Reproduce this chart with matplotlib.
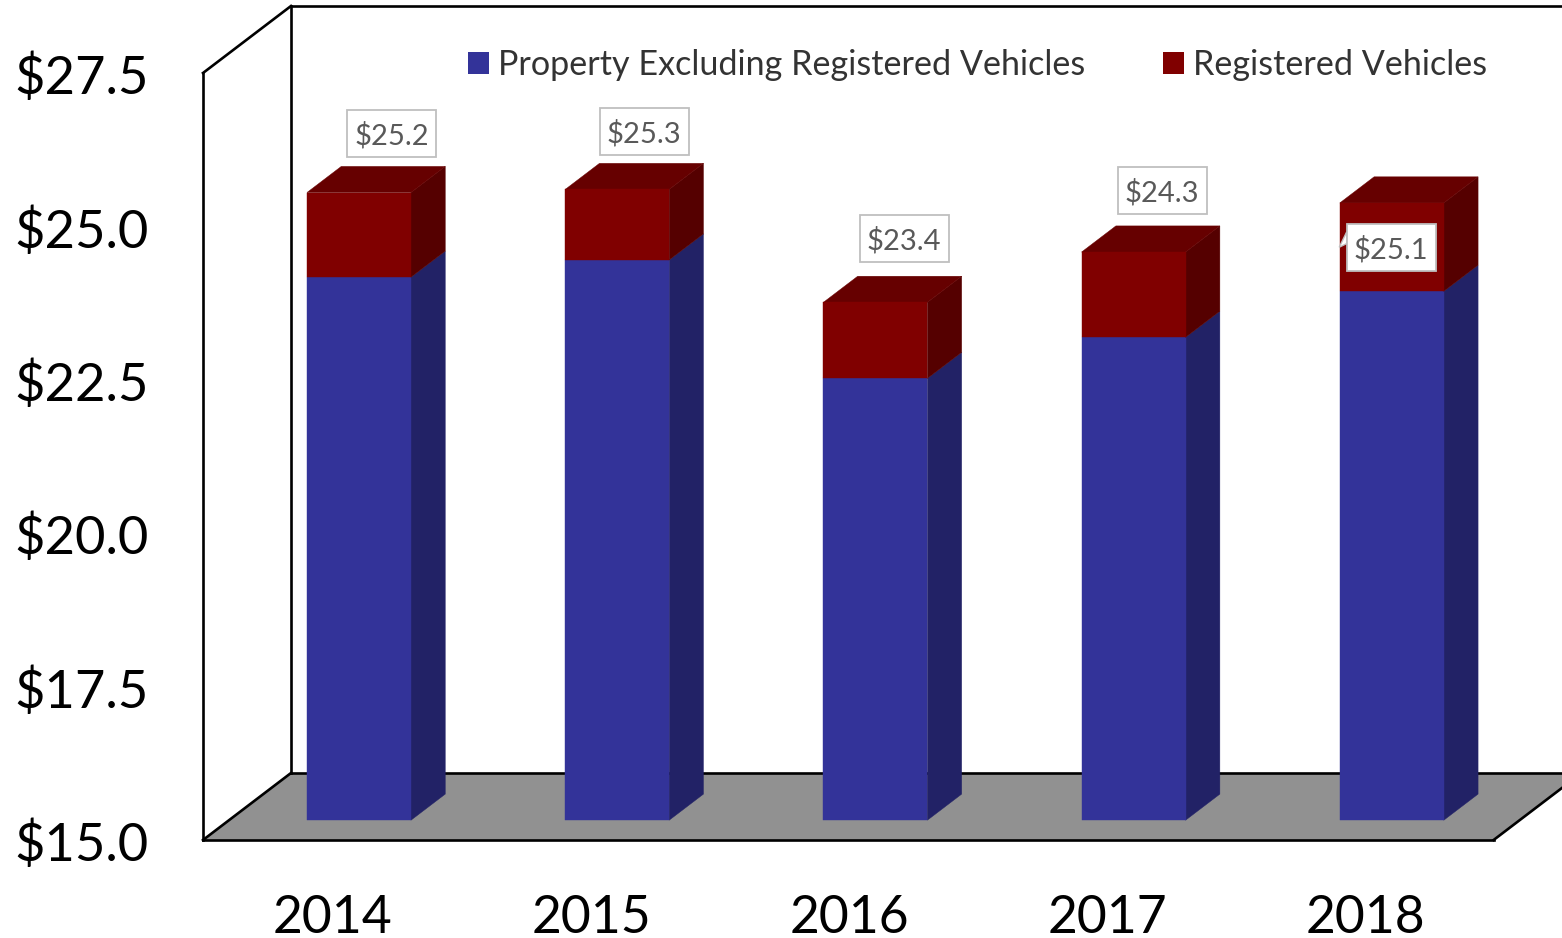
import matplotlib
matplotlib.use("Agg")
import matplotlib.pyplot as plt
from matplotlib.patches import Polygon, Rectangle

plt.rcParams["font.family"] = ["Lato", "DejaVu Sans"]

# -------------------------------------------------------
# Data
# -------------------------------------------------------
years = ["2014", "2015", "2016", "2017", "2018"]
property_vals = [23.85, 24.13, 22.20, 22.87, 23.62]
registered_vals = [1.38, 1.15, 1.24, 1.39, 1.44]
total_labels = ["$25.2", "$25.3", "$23.4", "$24.3", "$25.1"]
y_ticks = [15.0, 17.5, 20.0, 22.5, 25.0, 27.5]
series_names = ["Property Excluding Registered Vehicles", "Registered Vehicles"]

# label box centres, in category / value units
label_x = [0.2266, 1.2045, 2.2115, 3.2107, 4.0976]
label_y = [26.514, 26.54, 24.795, 25.585, 24.648]

W, H = 1562, 938
PX_CAT = 258.2
PX_VAL = 61.36
X0_PX = 333
Y0_PX = 840

# depth unit = the full floor depth
DX = 88 / PX_CAT
DY = 67 / PX_VAL
BAR_FRONT = 0.295
BAR_DEPTH = 0.39
HALF = 52 / PX_CAT
BOX_W = 89 / PX_CAT
BOX_H = 47 / PX_VAL

BLUE = ["#333399", "#222266"]
RED = ["#800000", "#550000", "#660000"]

fig = plt.figure(figsize=(W / 100, H / 100), dpi=100)
ax = fig.add_axes([0, 0, 1, 1])
ax.set_xlim(-X0_PX / PX_CAT, (W - X0_PX) / PX_CAT)
ax.set_ylim(15 - (H - Y0_PX) / PX_VAL, 15 + Y0_PX / PX_VAL)
ax.axis("off")


def proj(x, v, d):
    return (x + d * DX, v + d * DY)


def block(i, low, high, cols):
    # values count from the bar foot, which sits BAR_FRONT in from the floor edge
    lift = BAR_FRONT * DY
    lx = i - HALF + BAR_FRONT * DX
    rx = i + HALF + BAR_FRONT * DX
    back_dx = BAR_DEPTH * DX
    back_dy = BAR_DEPTH * DY
    front = [(lx, low), (rx, low), (rx, high), (lx, high)]
    side = [(rx, low), (rx + back_dx, low + back_dy), (rx + back_dx, high + back_dy), (rx, high)]
    parts = [(side, cols[1]), (front, cols[0])]
    if len(cols) > 2:
        top = [(lx, high), (rx, high), (rx + back_dx, high + back_dy), (lx + back_dx, high + back_dy)]
        parts.insert(1, (top, cols[2]))
    for pts, c in parts:
        ax.add_patch(Polygon([(x, y + lift) for x, y in pts], closed=True,
                             fc=c, ec=c, lw=0.3, zorder=4))


# -------------------------------------------------------
# Walls and floor
# -------------------------------------------------------
left = -0.5035
right = 4.495
far = 6
ax.add_patch(Polygon([proj(left, 15, 0), proj(right, 15, 0), proj(right, 15, 1), proj(left, 15, 1)],
                     closed=True, fc="#919191", ec="none", zorder=1))
line = dict(color="black", lw=1.9, solid_capstyle="projecting", zorder=2)
for a, b in [
    (proj(left, 15, 0), proj(right, 15, 0)),
    (proj(left, 15, 0), proj(left, 27.5, 0)),
    (proj(left, 27.5, 0), proj(left, 27.5, 1)),
    (proj(left, 15, 0), proj(left, 15, 1)),
    (proj(left, 15, 1), proj(left, 27.5, 1)),
    (proj(left, 15, 1), proj(far, 15, 1)),
    (proj(left, 27.5, 1), proj(far, 27.5, 1)),
    (proj(right, 15, 0), proj(right, 15, 1)),
]:
    ax.plot([a[0], b[0]], [a[1], b[1]], **line)

# -------------------------------------------------------
# Bars
# -------------------------------------------------------
for i in range(len(years)):
    block(i, 15, property_vals[i], BLUE)
    block(i, property_vals[i], property_vals[i] + registered_vals[i], RED)

# -------------------------------------------------------
# Axis text
# -------------------------------------------------------
for v in y_ticks:
    ax.text(-319 / PX_CAT, v - 0.09, f"${v:.1f}", fontsize=37.8, ha="left", va="center", color="black")
for i, y in enumerate(years):
    ax.text(i, 13.72, y, fontsize=37.2, ha="center", va="center", color="black")

# -------------------------------------------------------
# Value labels
# -------------------------------------------------------
for i, txt in enumerate(total_labels):
    ax.add_patch(Rectangle((label_x[i] - BOX_W / 2, label_y[i] - BOX_H / 2), BOX_W, BOX_H,
                           fc="white", ec="#bfbfbf", lw=1.3, zorder=6))
    ax.text(label_x[i], label_y[i] - 0.03, txt, fontsize=21, color="#595959", ha="center", va="center", zorder=7)

# little callout pointer on the 2018 label
ax.add_patch(Polygon([(3.926, 24.91), (3.897, 24.66), (3.926, 24.72)], closed=True, fc="white", ec="#bfbfbf",
                     lw=1, zorder=5))

# -------------------------------------------------------
# Legend
# -------------------------------------------------------
handles = [Rectangle((0, 0), 1, 1, fc=BLUE[0]), Rectangle((0, 0), 1, 1, fc=RED[0])]
leg = ax.legend(handles, series_names, ncol=2, loc="center left",
                bbox_to_anchor=(468 / W, 1 - 65 / H), frameon=False, fontsize=24.6,
                handlelength=0.62, handleheight=0.62, handletextpad=0.27, columnspacing=2.25,
                labelcolor="#333333", borderpad=0, borderaxespad=0)
leg.set_zorder(8)

fig.savefig("out.png", dpi=100)
